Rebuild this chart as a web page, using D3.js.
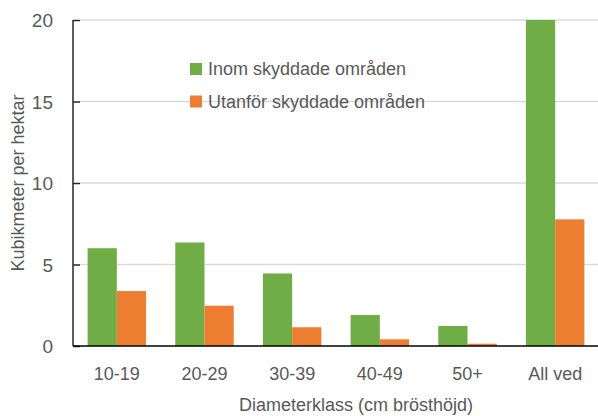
<!DOCTYPE html>
<html><head><meta charset="utf-8">
<script src="https://cdn.jsdelivr.net/npm/d3@7"></script>
<style>body{margin:0;background:#fff}svg{display:block}text{font-family:"Liberation Sans",Arial,sans-serif;fill:#595959}</style>
</head><body>
<svg id="c" width="598" height="416"></svg>
<script>
const categories = ["10-19","20-29","30-39","40-49","50+","All ved"];
const seriesNames = ["Inom skyddade områden","Utanför skyddade områden"];
const inom = [6.0, 6.35, 4.45, 1.9, 1.23, 20];
const utanfor = [3.37, 2.47, 1.15, 0.41, 0.14, 7.77];
const yTicks = [0,5,10,15,20];
const colors = ["#70AD47","#ED7D31"];

const svg = d3.select("#c");
const L=73, R=599, T=20, B=346;
const x = d3.scaleBand().domain(categories).range([L,R]).paddingInner(0).paddingOuter(0);
const bw = x.bandwidth();
const xs = d3.scaleBand().domain([0,1]).range([bw/6, bw*5/6]).paddingInner(0).paddingOuter(0);
const y = d3.scaleLinear().domain([0,20]).range([B,T]);

// gridlines
svg.append("g").selectAll("line").data(yTicks.filter(d=>d>0)).join("line")
  .attr("x1",L+7).attr("x2",R).attr("y1",d=>y(d)).attr("y2",d=>y(d))
  .attr("stroke","#d9d9d9").attr("stroke-width",1.3);

// bars
const data = categories.map((c,i)=>({c,v:[inom[i],utanfor[i]]}));
const g = svg.append("g").selectAll("g").data(data).join("g").attr("transform",d=>`translate(${x(d.c)},0)`);
g.selectAll("rect").data(d=>d.v.map((v,k)=>({v,k}))).join("rect")
  .attr("x",d=>xs(d.k)).attr("width",xs.bandwidth())
  .attr("y",d=>y(d.v)).attr("height",d=>B-y(d.v)).attr("fill",d=>colors[d.k]);

// y axis
const ya = svg.append("g").attr("transform",`translate(${L},0)`)
  .call(d3.axisRight(y).tickValues(yTicks).tickSize(7).tickFormat(d3.format("d")));
ya.select(".domain").attr("stroke","#262626").attr("stroke-width",1.5).attr("d",`M0,${T}V${B}`);
ya.selectAll(".tick line").attr("stroke","#262626").attr("stroke-width",1.5);
ya.selectAll(".tick text").attr("x",-20).attr("text-anchor","end").attr("dy","0.35em")
  .style("font-size","19px").style("fill","#595959");

// x axis
const xa = svg.append("g").attr("transform",`translate(0,${B})`)
  .call(d3.axisBottom(x).tickSize(0).tickPadding(0));
xa.select(".domain").attr("stroke","#000").attr("stroke-width",1.5).attr("d",`M${L},0H${R}`);
xa.selectAll(".tick text").attr("y",34).attr("dy",0).style("font-size","18px").style("fill","#595959");

// axis titles
svg.append("text").attr("transform","translate(24,183) rotate(-90)").attr("text-anchor","middle")
  .style("font-size","18px").text("Kubikmeter per hektar");
svg.append("text").attr("x",356).attr("y",411).attr("text-anchor","middle")
  .style("font-size","18px").text("Diameterklass (cm brösthöjd)");

// legend
const lg = svg.append("g").selectAll("g").data(seriesNames).join("g")
  .attr("transform",(d,i)=>`translate(190,${63+i*32.5})`);
lg.append("rect").attr("width",12).attr("height",12).attr("fill",(d,i)=>colors[i]);
lg.append("text").attr("x",18).attr("y",6).attr("dy","0.35em").style("font-size","18px").text(d=>d);
</script>
</body></html>
